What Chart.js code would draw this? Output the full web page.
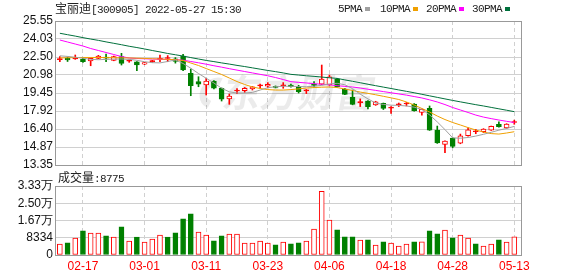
<!DOCTYPE html>
<html><head><meta charset="utf-8">
<script src="https://cdn.jsdelivr.net/npm/chart.js@4"></script>
<style>
html,body{margin:0;padding:0;background:#fff;width:578px;height:276px;overflow:hidden;position:relative}
#c1{position:absolute;left:0;top:0}
#c2{position:absolute;left:0;top:170px}
.t{position:absolute;white-space:nowrap;color:#222;line-height:16px;height:16px}
.cj{font-family:"Noto Sans CJK SC",sans-serif;font-size:12px}
.mo{font-family:"Liberation Mono",monospace;font-size:11px;letter-spacing:-0.6px}
.sw{position:absolute;width:5px;height:4px;top:7px}
</style></head><body>
<canvas id="c1" width="578" height="185"></canvas>
<canvas id="c2" width="578" height="106"></canvas>
<div class="t" style="left:55px;top:0px"><span class="cj">宝丽迪</span><span class="mo">[300905] 2022-05-27 15:30</span></div>
<div class="t mo" style="left:338px;top:1px">5PMA</div><div class="sw" style="left:365px;background:#a0a0a0"></div>
<div class="t mo" style="left:380px;top:1px">10PMA</div><div class="sw" style="left:413px;background:#f0a000"></div>
<div class="t mo" style="left:426px;top:1px">20PMA</div><div class="sw" style="left:459px;background:#ff00ff"></div>
<div class="t mo" style="left:472px;top:1px">30PMA</div><div class="sw" style="left:505px;background:#00703c"></div>
<div class="t" style="left:58px;top:169px"><span class="cj">成交量</span><span class="mo">:8775</span></div>
<script>
const dates = ['02-14','02-15','02-16','02-17','02-18','02-21','02-22','02-23','02-24','02-25','02-28',
'03-01','03-02','03-03','03-04','03-07','03-08','03-09','03-10','03-11','03-14','03-15','03-16','03-17','03-18','03-21','03-22','03-23','03-24','03-25','03-28','03-29','03-30','03-31',
'04-01','04-06','04-07','04-08','04-11','04-12','04-13','04-14','04-15','04-18','04-19','04-20','04-21','04-22','04-25','04-26','04-27','04-28','04-29',
'05-05','05-06','05-09','05-10','05-11','05-12','05-13'];
const xTickLabels = ['02-17','03-01','03-11','03-23','04-06','04-18','04-28','05-13'];
const opens = [22.28,22.39,22.34,22.33,22.16,22.39,22.50,22.22,22.53,22.14,
22.10,21.90,22.10,22.30,22.37,22.35,22.58,21.12,20.41,20.13,
20.47,19.85,18.94,19.62,19.65,19.79,20.05,20.02,20.02,20.05,
20.13,19.98,19.63,20.20,20.19,20.13,20.63,19.79,19.08,18.64,
18.77,18.43,18.58,18.17,18.45,18.52,18.52,17.81,18.15,16.31,
15.10,15.63,15.19,15.83,16.17,16.17,16.31,16.80,16.49,16.95];
const closes = [22.32,22.25,22.40,22.10,22.39,22.58,22.40,22.53,21.96,22.18,
21.82,22.02,22.19,22.34,22.40,22.12,21.40,20.07,20.19,20.47,
19.85,18.92,19.19,19.66,19.85,19.98,20.08,20.19,19.92,20.08,
19.98,19.56,19.67,20.10,20.63,20.83,19.98,19.34,18.49,18.68,
18.29,18.71,18.15,18.21,18.49,18.56,17.95,18.07,16.31,15.22,
15.38,14.93,15.82,16.34,16.21,16.40,16.62,16.60,16.82,16.99];
const highs = [22.53,22.50,22.67,22.40,22.42,22.64,22.75,22.58,22.81,22.25,
22.12,22.05,22.22,22.67,22.62,22.45,22.73,21.48,20.83,20.69,
20.50,19.88,19.36,19.82,19.92,20.00,20.20,20.33,20.05,20.33,
20.20,20.10,19.75,20.41,21.82,20.97,20.70,19.85,19.70,18.95,
18.80,18.75,18.60,18.30,18.60,18.65,18.55,18.10,18.35,16.65,
15.40,15.66,15.97,16.50,16.37,16.43,16.65,17.00,16.85,17.15];
const lows = [22.10,22.12,22.30,22.05,21.76,22.35,22.10,22.18,21.82,22.05,
21.34,21.85,22.05,22.10,22.10,21.98,21.35,19.22,19.98,19.28,
19.80,18.77,18.49,19.40,19.50,19.70,19.85,19.88,19.88,19.85,
19.95,19.45,19.40,19.93,20.15,20.10,19.95,19.30,18.45,18.30,
18.10,18.40,18.05,17.73,18.30,18.35,17.92,17.58,16.28,15.18,
14.39,14.81,15.15,15.80,16.00,16.10,16.28,16.55,16.45,16.80];
const ma5 = [22.60,22.55,22.48,22.40,22.30,22.27,22.30,22.32,22.33,22.30,
22.22,22.10,22.02,22.00,22.12,22.25,21.95,21.55,21.10,20.70,
20.30,19.85,19.55,19.45,19.45,19.50,19.70,19.90,19.98,20.02,
20.02,20.00,19.98,20.02,20.10,20.22,20.27,20.15,19.82,19.35,
18.95,18.60,18.48,18.42,18.40,18.35,18.25,18.05,17.60,17.00,
16.35,15.65,15.62,15.68,15.80,15.95,16.12,16.30,16.45,16.62];
const ma10 = [22.42,22.44,22.45,22.46,22.46,22.46,22.45,22.44,22.43,22.42,
22.40,22.38,22.35,22.33,22.30,22.27,22.20,21.99,21.78,21.52,
21.27,21.02,20.72,20.42,20.17,19.96,19.83,19.74,19.70,19.70,
19.74,19.80,19.87,19.91,19.94,19.96,19.91,19.79,19.66,19.53,
19.42,19.30,19.17,19.04,18.90,18.69,18.43,18.14,17.84,17.50,
17.20,16.95,16.74,16.52,16.31,16.14,16.01,15.97,16.06,16.17];
const ma20 = [23.94,23.77,23.60,23.43,23.22,23.05,22.88,22.71,22.54,22.41,
22.37,22.35,22.33,22.31,22.30,22.28,22.23,22.12,22.01,21.89,
21.76,21.64,21.51,21.39,21.27,21.15,21.03,20.91,20.76,20.59,
20.41,20.35,20.30,20.24,20.19,20.14,20.07,20.01,19.96,19.87,
19.77,19.67,19.57,19.47,19.37,19.27,19.15,19.03,18.87,18.69,
18.47,18.22,18.01,17.80,17.58,17.41,17.28,17.16,17.05,16.95];
const ma30 = [24.51,24.39,24.27,24.14,24.02,23.91,23.78,23.66,23.54,23.41,
23.30,23.18,23.05,22.93,22.80,22.69,22.58,22.45,22.33,22.21,
22.11,22.00,21.90,21.79,21.69,21.58,21.47,21.36,21.26,21.15,
21.03,20.97,20.91,20.86,20.80,20.74,20.69,20.56,20.44,20.32,
20.19,20.07,19.95,19.83,19.71,19.59,19.47,19.34,19.21,19.08,
18.95,18.82,18.70,18.58,18.46,18.35,18.23,18.11,17.99,17.87];
const volumes = [5290,5930,8170,11700,10580,10580,9300,8650,13620,6730,
8650,6250,7690,9620,8650,10740,17470,19870,11060,9620,
6890,9300,10100,10100,5770,5770,6730,5770,4970,6250,
5450,5930,6730,12500,30770,16830,12180,8810,8810,7210,
7370,4810,6410,5770,4330,5290,6410,6410,11700,10260,
12020,8330,9620,8170,5450,4330,5290,7370,6250,8775];
const volUp = [1,0,1,0,1,1,0,1,0,1,
0,1,1,1,0,0,0,0,1,1,
0,0,1,1,1,1,1,1,0,1,
0,0,1,1,1,1,0,0,0,1,
0,1,0,1,1,1,0,1,0,0,
1,0,1,1,0,1,1,0,1,1];
const priceTicks = ['13.35','14.87','16.40','17.92','19.45','20.98','22.50','24.03','25.55'];
const volTickValues = [0,8334,16668,25002,33336];
const volTickLabels = ['0','8334','1.67万','2.50万','3.33万'];

const RED = '#ff0000', GREEN = '#008000';
const xTickIdx = xTickLabels.map(l => dates.indexOf(l));
const pts = arr => arr.map((v, i) => ({x: i, y: v}));
const up = i => closes[i] >= opens[i];

const frame = {
  id: 'frame',
  afterDatasetsDraw(chart) {
    const a = chart.chartArea, c = chart.ctx;
    c.save();
    c.strokeStyle = '#999'; c.lineWidth = 1;
    c.strokeRect(Math.round(a.left) - 0.5, Math.round(a.top) + 0.5,
      Math.round(a.right) - Math.round(a.left), Math.round(a.bottom) - Math.round(a.top));
    c.restore();
  }
};
const watermark = {
  id: 'wm',
  beforeDatasetsDraw(chart) {
    const c = chart.ctx;
    c.save();
    c.fillStyle = 'rgba(0,0,0,0.08)';
    c.font = 'bold 38px "Noto Sans CJK SC"';
    c.setTransform(1, 0, -0.18, 1, 0, 0);
    c.fillText('东方财富', 240, 107);
    c.lineWidth = 7; c.strokeStyle = 'rgba(0,0,0,0.08)';
    c.beginPath(); c.arc(232, 93, 12, 0.6 * Math.PI, 1.6 * Math.PI); c.stroke();
    c.restore();
  }
};
const xScaleBase = {
  type: 'linear', min: -0.5, max: 60, offset: false,
  grid: {color: '#d0d0d0', drawTicks: false, offset: false, lineWidth: 1},
  border: {display: false, dash: [4, 3]},
  afterBuildTicks: s => { s.ticks = xTickIdx.map(v => ({value: v})); }
};

new Chart(document.getElementById('c1'), {
  type: 'bar',
  data: {datasets: [
    {type: 'line', data: pts(ma5), borderColor: '#a0a0a0', borderWidth: 1, pointRadius: 0, order: 0},
    {type: 'line', data: pts(ma10), borderColor: '#f0a000', borderWidth: 1, pointRadius: 0, order: 0},
    {type: 'line', data: pts(ma20), borderColor: '#ff00ff', borderWidth: 1, pointRadius: 0, order: 0},
    {type: 'line', data: pts(ma30), borderColor: '#00703c', borderWidth: 1, pointRadius: 0, order: 0},
    {data: opens.map((o, i) => ({x: i, y: [o, closes[i]]})),
     backgroundColor: ctx => { const i = ctx.dataIndex; return up(i) ? (Math.abs(closes[i] - opens[i]) < 0.12 ? RED : '#fff') : GREEN; },
     borderColor: ctx => up(ctx.dataIndex) ? RED : GREEN,
     borderWidth: 1, borderSkipped: false, barThickness: 5, grouped: false, minBarLength: 1, order: 1},
    {data: lows.map((l, i) => ({x: i, y: [l, highs[i]]})),
     backgroundColor: ctx => up(ctx.dataIndex) ? RED : GREEN,
     borderWidth: 0, barThickness: 1, grouped: false, order: 2}
  ]},
  options: {
    responsive: false, animation: false, events: [],
    layout: {padding: {left: 0, right: 56, top: 21, bottom: 0}},
    plugins: {legend: {display: false}, tooltip: {enabled: false}},
    scales: {
      x: Object.assign({}, xScaleBase, {ticks: {display: false}, afterFit: s => { s.height = 20; }}),
      y: {
        min: 13.35, max: 25.55,
        afterBuildTicks: s => { s.ticks = priceTicks.map(t => ({value: parseFloat(t)})); },
        afterFit: s => { s.width = 56; },
        ticks: {callback: (v, i) => priceTicks[i], font: {family: 'Liberation Sans', size: 12}, color: '#111', padding: 3, autoSkip: false},
        grid: {color: '#d0d0d0', drawTicks: false},
        border: {display: false}
      }
    }
  },
  plugins: [watermark, frame]
});

new Chart(document.getElementById('c2'), {
  type: 'bar',
  data: {datasets: [
    {data: pts(volumes),
     backgroundColor: ctx => volUp[ctx.dataIndex] ? '#fff' : GREEN,
     borderColor: ctx => volUp[ctx.dataIndex] ? RED : GREEN,
     borderWidth: 1, borderSkipped: false, barThickness: 5, grouped: false}
  ]},
  options: {
    responsive: false, animation: false, events: [],
    layout: {padding: {left: 0, right: 56, top: 16, bottom: 0}},
    plugins: {legend: {display: false}, tooltip: {enabled: false}},
    scales: {
      x: Object.assign({}, xScaleBase, {
        ticks: {callback: v => dates[v], font: {family: 'Liberation Sans', size: 12}, color: RED, padding: 4, maxRotation: 0, autoSkip: false},
        afterFit: s => { s.height = 21; }
      }),
      y: {
        min: 0, max: 33336,
        afterBuildTicks: s => { s.ticks = volTickValues.map(v => ({value: v})); },
        afterFit: s => { s.width = 56; },
        ticks: {callback: (v, i) => volTickLabels[i], font: {family: 'Liberation Sans', size: 12}, color: '#111', padding: 3, autoSkip: false},
        grid: {color: '#d0d0d0', drawTicks: false},
        border: {display: false}
      }
    }
  },
  plugins: [frame]
});
</script>
</body></html>
